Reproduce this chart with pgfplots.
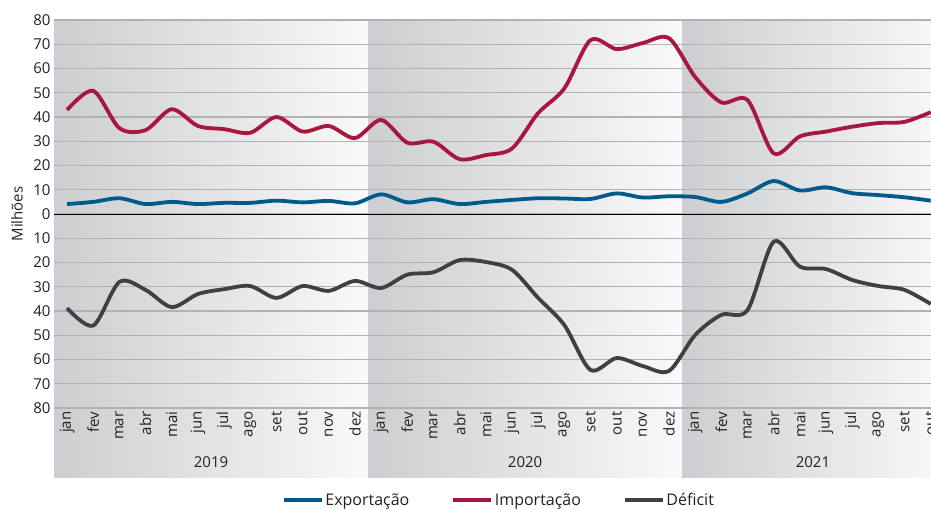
\documentclass[border=0pt]{standalone}
\usepackage{fontspec}
\setmainfont{Open Sans}
\usepackage{pgfplots}
\pgfplotsset{compat=1.18}
\definecolor{cexp}{RGB}{0,90,140}
\definecolor{cimp}{RGB}{168,23,62}
\definecolor{cdef}{RGB}{64,64,64}
\definecolor{bgdark}{RGB}{205,206,209}
\definecolor{bglight}{RGB}{249,249,249}
\definecolor{gridc}{RGB}{178,178,178}
\definecolor{txt}{RGB}{34,34,34}
\begin{document}
\begin{tikzpicture}[x=1pt,y=1pt]
\begin{axis}[
  set layers,
  at={(54pt,101pt)}, anchor=south west,
  scale only axis, width=889.8pt, height=388pt,
  xmin=-0.5, xmax=33.5, ymin=-80, ymax=80,
  clip=false,
  axis line style={draw=none},
  major tick length=0pt,
  ytick={-80,-70,...,80},
  yticklabel={\pgfmathparse{abs(\tick)}\pgfmathprintnumber[assume math mode=true]{\pgfmathresult}},
  ymajorgrids,
  grid style={gridc, line width=1.4pt},
  xtick={0,...,33},
  xticklabels={jan,fev,mar,abr,mai,jun,jul,ago,set,out,nov,dez,jan,fev,mar,abr,mai,jun,jul,ago,set,out,nov,dez,jan,fev,mar,abr,mai,jun,jul,ago,set,out},
  xticklabel style={rotate=90, anchor=east},
  tick label style={font=\fontsize{15}{18}\selectfont, text=txt},
  /pgf/number format/assume math mode=true,
  ylabel={Milhões},
  ylabel style={at={(axis description cs:-0.0416,0.5)}, anchor=center, font=\fontsize{15}{18}\selectfont, text=txt},
  legend columns=3,
  legend style={at={(axis description cs:0.5,-0.237)}, anchor=center, draw=none, fill=none,
    font=\fontsize{16}{19}\selectfont, text=txt,
    /tikz/every even column/.append style={column sep=40pt}},
  legend image code/.code={\draw[#1, line width=3.5pt] (0pt,0pt) -- (38pt,0pt);},
]
\begin{pgfonlayer}{axis background}
\shade[left color=bgdark, right color=bglight] (axis cs:-0.5,80) rectangle (axis cs:11.5,-108.5);
\shade[left color=bgdark, right color=bglight] (axis cs:11.5,80) rectangle (axis cs:23.5,-108.5);
\shade[left color=bgdark, right color=bglight] (axis cs:23.5,80) rectangle (axis cs:33.5,-108.5);
\end{pgfonlayer}
\draw[black, line width=1pt] (axis cs:-0.5,0) -- (axis cs:33.5,0);
\addplot[cexp, line width=3.8pt, smooth] coordinates {
(0,4.1)(1,5.0)(2,6.5)(3,4.1)(4,5.0)(5,4.1)(6,4.6)(7,4.6)(8,5.5)(9,4.8)(10,5.4)(11,4.4)
(12,8.1)(13,4.8)(14,6.1)(15,4.1)(16,5.0)(17,5.8)(18,6.5)(19,6.4)(20,6.2)(21,8.5)(22,6.8)(23,7.3)
(24,7.0)(25,5.0)(26,8.5)(27,13.6)(28,9.7)(29,11.0)(30,8.6)(31,7.8)(32,6.9)(33,5.5)};
\addlegendentry{Exportação}
\addplot[cimp, line width=3.8pt, smooth] coordinates {
(0,42.9)(1,50.8)(2,35.4)(3,34.6)(4,43.2)(5,36.3)(6,35.0)(7,33.5)(8,40.0)(9,34.0)(10,36.3)(11,31.3)
(12,38.8)(13,29.4)(14,29.8)(15,22.6)(16,24.3)(17,27.0)(18,41.6)(19,51.8)(20,71.7)(21,68.0)(22,70.5)(23,72.5)
(24,56.5)(25,46.0)(26,47.0)(27,25.0)(28,32.0)(29,34.0)(30,36.0)(31,37.5)(32,38.0)(33,42.0)};
\addlegendentry{Importação}
\addplot[cdef, line width=3.8pt, smooth] coordinates {
(0,-38.8)(1,-46.0)(2,-28.0)(3,-31.3)(4,-38.4)(5,-33.0)(6,-31.0)(7,-29.7)(8,-34.6)(9,-29.7)(10,-31.7)(11,-27.6)
(12,-30.5)(13,-25.0)(14,-24.0)(15,-19.0)(16,-19.8)(17,-23.0)(18,-34.6)(19,-45.8)(20,-64.3)(21,-59.4)(22,-62.7)(23,-64.7)
(24,-49.9)(25,-41.6)(26,-39.6)(27,-11.4)(28,-21.7)(29,-22.7)(30,-27.2)(31,-29.7)(32,-31.3)(33,-37.1)};
\addlegendentry{Déficit}
\node[font=\fontsize{15}{18}\selectfont, text=txt] at (axis cs:5.5,-102.3) {2019};
\node[font=\fontsize{15}{18}\selectfont, text=txt] at (axis cs:17.5,-102.3) {2020};
\node[font=\fontsize{15}{18}\selectfont, text=txt] at (axis cs:28.5,-102.3) {2021};
\end{axis}
\pgfresetboundingbox
\path[use as bounding box] (0,0) rectangle (931,509);
\end{tikzpicture}
\end{document}
